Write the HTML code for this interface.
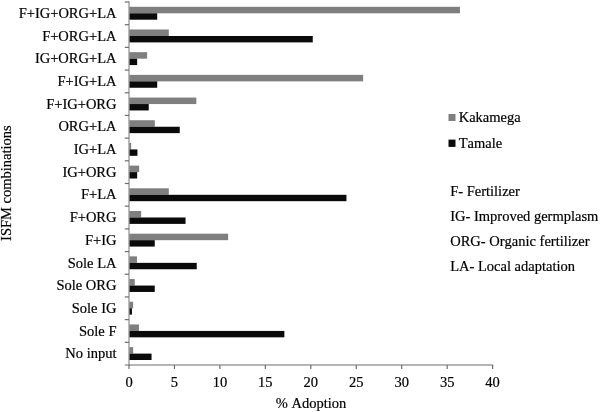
<!DOCTYPE html><html><head><meta charset="utf-8"><title>ISFM adoption</title>
<style>html,body{margin:0;padding:0;background:#fff}svg{display:block;will-change:transform}text{font-family:"Liberation Serif","Times New Roman",serif;font-size:14.5px;fill:#000;stroke:#000;stroke-width:0.2px;font-kerning:none}</style></head><body>
<svg width="600" height="412" viewBox="0 0 600 412">
<rect x="129.40" y="6.80" width="330.55" height="6.5" fill="#7f7f7f"/>
<rect x="129.40" y="13.30" width="27.81" height="6.4" fill="#0a0a0a"/>
<text x="116.5" y="17.94" text-anchor="end">F+IG+ORG+LA</text>
<rect x="129.40" y="29.49" width="39.40" height="6.5" fill="#7f7f7f"/>
<rect x="129.40" y="35.99" width="183.35" height="6.4" fill="#0a0a0a"/>
<text x="116.5" y="40.63" text-anchor="end">F+ORG+LA</text>
<rect x="129.40" y="52.17" width="17.72" height="6.5" fill="#7f7f7f"/>
<rect x="129.40" y="58.67" width="7.75" height="6.4" fill="#0a0a0a"/>
<text x="116.5" y="63.32" text-anchor="end">IG+ORG+LA</text>
<rect x="129.40" y="74.86" width="233.75" height="6.5" fill="#7f7f7f"/>
<rect x="129.40" y="81.36" width="27.81" height="6.4" fill="#0a0a0a"/>
<text x="116.5" y="86.01" text-anchor="end">F+IG+LA</text>
<rect x="129.40" y="97.55" width="66.95" height="6.5" fill="#7f7f7f"/>
<rect x="129.40" y="104.05" width="19.35" height="6.4" fill="#0a0a0a"/>
<text x="116.5" y="108.69" text-anchor="end">F+IG+ORG</text>
<rect x="129.40" y="120.24" width="25.40" height="6.5" fill="#7f7f7f"/>
<rect x="129.40" y="126.74" width="50.35" height="6.4" fill="#0a0a0a"/>
<text x="116.5" y="131.38" text-anchor="end">ORG+LA</text>
<rect x="129.40" y="142.93" width="1.75" height="6.5" fill="#7f7f7f"/>
<rect x="129.40" y="149.43" width="8.05" height="6.4" fill="#0a0a0a"/>
<text x="116.5" y="154.07" text-anchor="end">IG+LA</text>
<rect x="129.40" y="165.61" width="9.75" height="6.5" fill="#7f7f7f"/>
<rect x="129.40" y="172.11" width="7.75" height="6.4" fill="#0a0a0a"/>
<text x="116.5" y="176.76" text-anchor="end">IG+ORG</text>
<rect x="129.40" y="188.30" width="39.40" height="6.5" fill="#7f7f7f"/>
<rect x="129.40" y="194.80" width="217.05" height="6.4" fill="#0a0a0a"/>
<text x="116.5" y="199.44" text-anchor="end">F+LA</text>
<rect x="129.40" y="210.99" width="11.75" height="6.5" fill="#7f7f7f"/>
<rect x="129.40" y="217.49" width="56.15" height="6.4" fill="#0a0a0a"/>
<text x="116.5" y="222.13" text-anchor="end">F+ORG</text>
<rect x="129.40" y="233.68" width="98.75" height="6.5" fill="#7f7f7f"/>
<rect x="129.40" y="240.18" width="25.35" height="6.4" fill="#0a0a0a"/>
<text x="116.5" y="244.82" text-anchor="end">F+IG</text>
<rect x="129.40" y="256.36" width="7.55" height="6.5" fill="#7f7f7f"/>
<rect x="129.40" y="262.86" width="67.35" height="6.4" fill="#0a0a0a"/>
<text x="116.5" y="267.51" text-anchor="end">Sole LA</text>
<rect x="129.40" y="279.05" width="5.35" height="6.5" fill="#7f7f7f"/>
<rect x="129.40" y="285.55" width="25.35" height="6.4" fill="#0a0a0a"/>
<text x="116.5" y="290.19" text-anchor="end">Sole ORG</text>
<rect x="129.40" y="301.74" width="3.75" height="6.5" fill="#7f7f7f"/>
<rect x="129.40" y="308.24" width="2.55" height="6.4" fill="#0a0a0a"/>
<text x="116.5" y="312.88" text-anchor="end">Sole IG</text>
<rect x="129.40" y="324.43" width="9.55" height="6.5" fill="#7f7f7f"/>
<rect x="129.40" y="330.93" width="154.95" height="6.4" fill="#0a0a0a"/>
<text x="116.5" y="335.57" text-anchor="end">Sole F</text>
<rect x="129.40" y="347.11" width="3.75" height="6.5" fill="#7f7f7f"/>
<rect x="129.40" y="353.61" width="22.15" height="6.4" fill="#0a0a0a"/>
<text x="116.5" y="358.26" text-anchor="end">No input</text>
<g stroke="#6e6e6e" stroke-width="1.2" fill="none">
<line x1="129.00" y1="1.40" x2="129.00" y2="365.60" stroke-width="0.95"/>
<line x1="124.80" y1="365.00" x2="493.20" y2="365.00"/>
<line x1="124.80" y1="2.00" x2="129.00" y2="2.00"/>
<line x1="124.80" y1="24.69" x2="129.00" y2="24.69"/>
<line x1="124.80" y1="47.38" x2="129.00" y2="47.38"/>
<line x1="124.80" y1="70.06" x2="129.00" y2="70.06"/>
<line x1="124.80" y1="92.75" x2="129.00" y2="92.75"/>
<line x1="124.80" y1="115.44" x2="129.00" y2="115.44"/>
<line x1="124.80" y1="138.12" x2="129.00" y2="138.12"/>
<line x1="124.80" y1="160.81" x2="129.00" y2="160.81"/>
<line x1="124.80" y1="183.50" x2="129.00" y2="183.50"/>
<line x1="124.80" y1="206.19" x2="129.00" y2="206.19"/>
<line x1="124.80" y1="228.88" x2="129.00" y2="228.88"/>
<line x1="124.80" y1="251.56" x2="129.00" y2="251.56"/>
<line x1="124.80" y1="274.25" x2="129.00" y2="274.25"/>
<line x1="124.80" y1="296.94" x2="129.00" y2="296.94"/>
<line x1="124.80" y1="319.62" x2="129.00" y2="319.62"/>
<line x1="124.80" y1="342.31" x2="129.00" y2="342.31"/>
<line x1="174.45" y1="365.00" x2="174.45" y2="369.00"/>
<line x1="219.90" y1="365.00" x2="219.90" y2="369.00"/>
<line x1="265.35" y1="365.00" x2="265.35" y2="369.00"/>
<line x1="310.80" y1="365.00" x2="310.80" y2="369.00"/>
<line x1="356.25" y1="365.00" x2="356.25" y2="369.00"/>
<line x1="401.70" y1="365.00" x2="401.70" y2="369.00"/>
<line x1="447.15" y1="365.00" x2="447.15" y2="369.00"/>
<line x1="492.60" y1="365.00" x2="492.60" y2="369.00"/>
<line x1="129.00" y1="365.00" x2="129.00" y2="369.00"/>
</g>
<text x="129.00" y="386.5" text-anchor="middle">0</text>
<text x="174.45" y="386.5" text-anchor="middle">5</text>
<text x="219.90" y="386.5" text-anchor="middle">10</text>
<text x="265.35" y="386.5" text-anchor="middle">15</text>
<text x="310.80" y="386.5" text-anchor="middle">20</text>
<text x="356.25" y="386.5" text-anchor="middle">25</text>
<text x="401.70" y="386.5" text-anchor="middle">30</text>
<text x="447.15" y="386.5" text-anchor="middle">35</text>
<text x="492.60" y="386.5" text-anchor="middle">40</text>
<text x="311" y="408" text-anchor="middle">% Adoption</text>
<text transform="translate(11.3,183.1) rotate(-90)" text-anchor="middle">ISFM combinations</text>
<rect x="448.5" y="114" width="7" height="7" fill="#7f7f7f"/>
<rect x="448.5" y="139.6" width="7" height="7.3" fill="#0a0a0a"/>
<text x="458.7" y="121.9">Kakamega</text>
<text x="458.7" y="147.8">Tamale</text>
<text x="450.2" y="195.6">F- Fertilizer</text>
<text x="450.2" y="221.1">IG- Improved germplasm</text>
<text x="450.2" y="245.5">ORG- Organic fertilizer</text>
<text x="450.2" y="270.8">LA- Local adaptation</text>
</svg></body></html>
